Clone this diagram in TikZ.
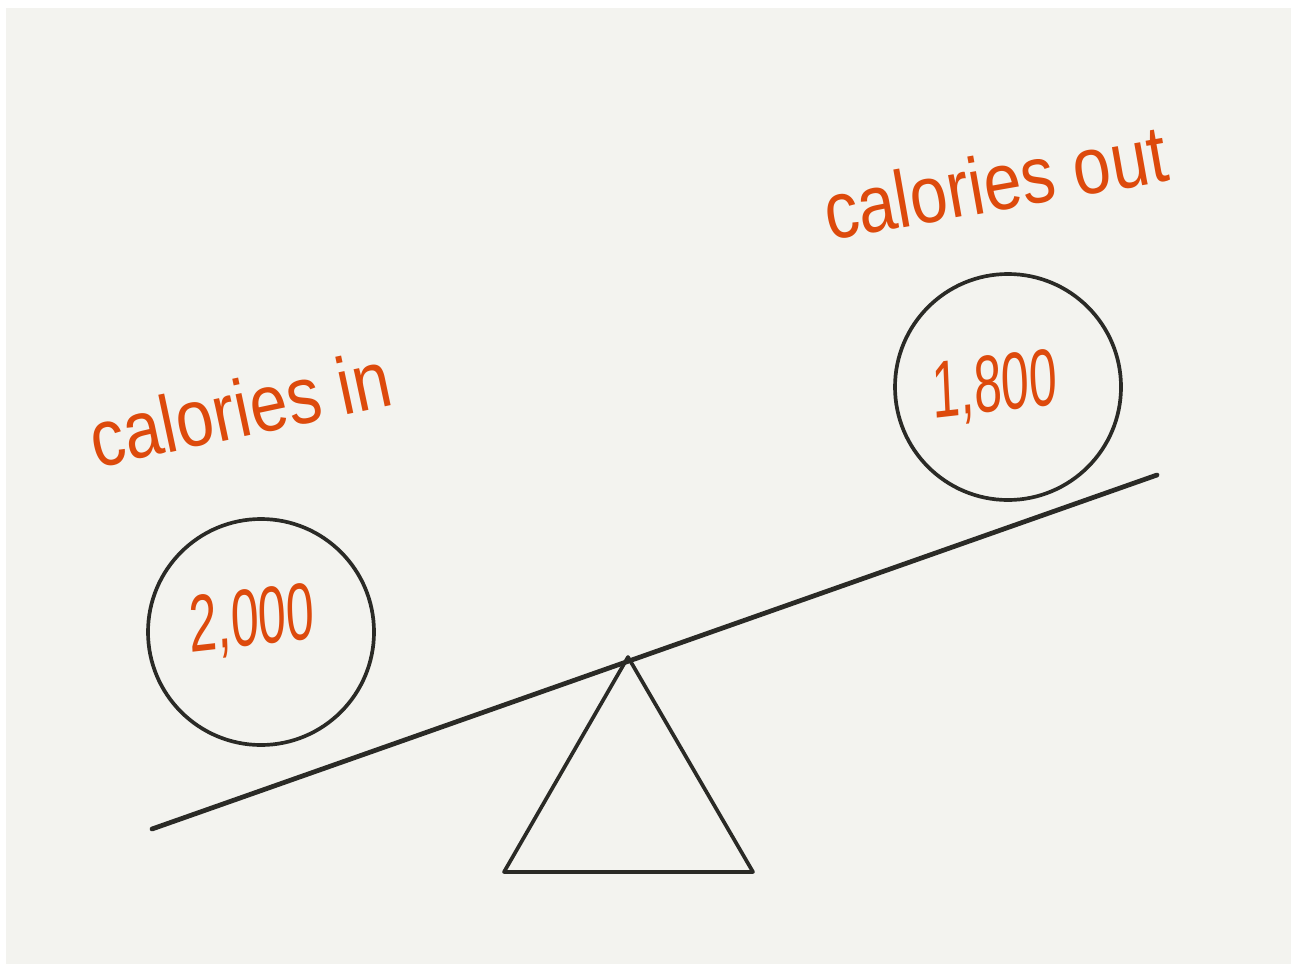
\documentclass[tikz,border=0pt]{standalone}
\usepackage{fontspec}
\setmainfont{Liberation Sans}
\definecolor{bgpaper}{HTML}{F3F3EF}
\definecolor{ink}{HTML}{2A2A26}
\definecolor{hand}{HTML}{DD4A0C}
\begin{document}
\begin{tikzpicture}[x=0.02cm,y=-0.02cm,
  inkline/.style={draw=ink,line width=2.1pt,line cap=round,line join=round},
  ball/.style={circle,draw=ink,line width=2.1pt,minimum size=226*0.02cm,inner sep=0pt},
  handtext/.style={text=hand,font=\fontsize{46}{54}\selectfont,inner sep=0pt},
  handnum/.style={text=hand,font=\fontsize{46}{52}\selectfont,inner sep=0pt}]
\useasboundingbox (0,0) rectangle (1293,966);
\fill[white] (0,0) rectangle (1293,966);
\fill[bgpaper] (6,8) rectangle (1291,964);
% beam
\coordinate (bl) at (152,829);
\coordinate (br) at (1157,475);
\draw[inkline,line width=2.7pt] (bl) -- (br);
% fulcrum
\coordinate (apex) at (628,657);
\coordinate (tl) at (504,872);
\coordinate (tr) at (753,872);
\draw[inkline] (apex) -- (tl) -- (tr) -- cycle;
% balls
\node[ball] (leftball) at (261,632) {};
\node[ball] (rightball) at (1008,387) {};
% numbers
\node[handnum,xscale=0.62,rotate=4] (inval) at (252,622) {2,000};
\node[handnum,xscale=0.62,rotate=4] (outval) at (995,388) {1,800};
% labels
\node[handtext,rotate=12,xscale=0.84] (inlbl) at (240,408) {calories in};
\node[handtext,rotate=10,xscale=0.84] (outlbl) at (995,182) {calories out};
\end{tikzpicture}
\end{document}
